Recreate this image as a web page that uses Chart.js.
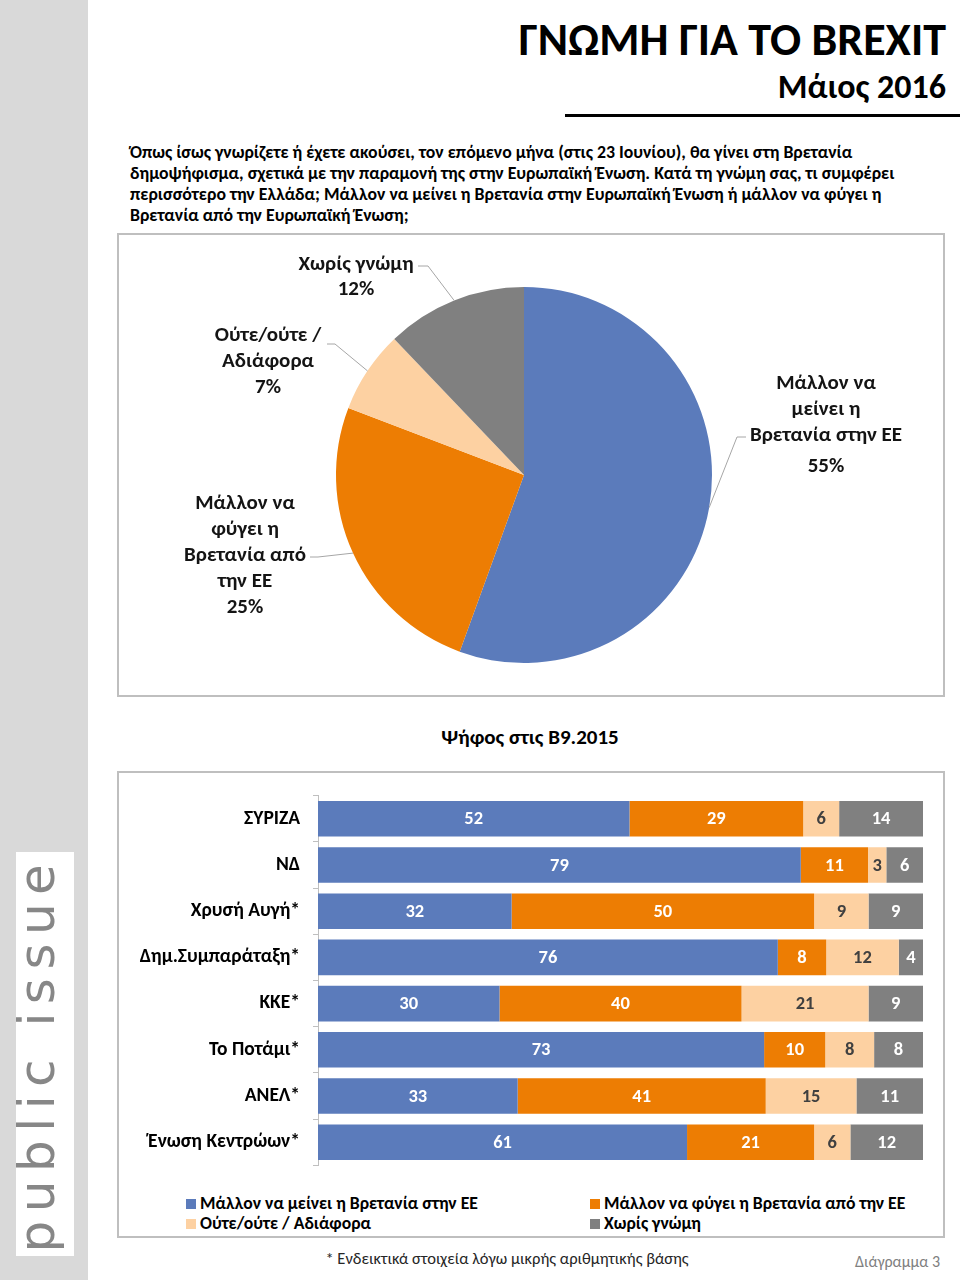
<!DOCTYPE html>
<html>
<head>
<meta charset="utf-8">
<script src="https://cdn.jsdelivr.net/npm/chart.js@4.4.0/dist/chart.umd.min.js"></script>
<style>
  body { margin: 0; width: 960px; height: 1280px; position: relative; overflow: hidden; background: #fff;
         font-family: Carlito, "Roboto Condensed", sans-serif; color: #000; }
  .abs { position: absolute; }
  #side { left: 0; top: 0; width: 88px; height: 1280px; background: #d9d9d9; }
  #logo { left: 16px; top: 852px; width: 58px; height: 404px; background: #fff; overflow: hidden; }
  #logo span { position: absolute; left: 50%; top: 50%; white-space: nowrap; color: #878787;
               font-family: "DejaVu Sans", sans-serif; font-size: 50px; line-height: 58px;
               letter-spacing: 8.5px; transform: translate(-52%, -50%) rotate(-90deg); }
  #title { right: 14px; top: 14px; font-size: 46px; font-weight: bold; white-space: nowrap; line-height: 50px; }
  #date { right: 14px; top: 68px; font-size: 34px; font-weight: bold; white-space: nowrap; line-height: 38px; }
  #rule { left: 565px; top: 114px; width: 395px; height: 3px; background: #000; }
  #question { left: 130px; top: 142px; width: 820px; font-size: 17.8px; font-weight: bold; line-height: 21px; white-space: nowrap; }
  .box { border: 2px solid #bfbfbf; box-sizing: border-box; }
  #pieBox { left: 117px; top: 233px; width: 828px; height: 464px; }
  #pieWrap { left: 117px; top: 233px; width: 828px; height: 464px; }
  #barTitle { left: 330px; width: 400px; top: 724px; text-align: center; font-size: 21px; font-weight: bold; line-height: 26px; }
  #barBox { left: 117px; top: 771px; width: 828px; height: 467px; }
  #barWrap { left: 117px; top: 771px; width: 828px; height: 419px; }
  .leg { font-size: 17.7px; font-weight: bold; white-space: nowrap; line-height: 20px; }
  .leg i { display: inline-block; width: 10px; height: 10px; margin-right: 4px; vertical-align: 0px; }
  #note { left: 200px; width: 614px; top: 1248px; text-align: center; font-size: 16.5px; color: #262626; line-height: 20px; }
  #fig { right: 20px; top: 1252px; font-size: 16px; color: #808080; line-height: 20px; }
</style>
</head>
<body>
<div id="side" class="abs"></div>
<div id="logo" class="abs"><span>public issue</span></div>
<div id="title" class="abs">ΓΝΩΜΗ ΓΙΑ ΤΟ BREXIT</div>
<div id="date" class="abs">Μάιος 2016</div>
<div id="rule" class="abs"></div>
<div id="question" class="abs">Όπως ίσως γνωρίζετε ή έχετε ακούσει, τον επόμενο μήνα (στις 23 Ιουνίου), θα γίνει στη Βρετανία<br>δημοψήφισμα, σχετικά με την παραμονή της στην Ευρωπαϊκή Ένωση. Κατά τη γνώμη σας, τι συμφέρει<br>περισσότερο την Ελλάδα; Μάλλον να μείνει η Βρετανία στην Ευρωπαϊκή Ένωση ή μάλλον να φύγει η<br>Βρετανία από την Ευρωπαϊκή Ένωση;</div>
<div id="pieBox" class="abs box"></div>
<div id="pieWrap" class="abs"><canvas id="pie"></canvas></div>
<div id="barTitle" class="abs">Ψήφος στις Β9.2015</div>
<div id="barBox" class="abs box"></div>
<div id="barWrap" class="abs"><canvas id="bars"></canvas></div>
<div id="legend"></div>
<div id="note" class="abs">* Ενδεικτικά στοιχεία λόγω μικρής αριθμητικής βάσης</div>
<div id="fig" class="abs">Διάγραμμα 3</div>

<script>
// pie: whole sample
const pieCategories = ['Μάλλον να μείνει η Βρετανία στην ΕΕ', 'Μάλλον να φύγει η Βρετανία από την ΕΕ', 'Ούτε/ούτε / Αδιάφορα', 'Χωρίς γνώμη'];
const pieValues = [55, 25, 7, 12];
const pieLabelLines = [
  ['Μάλλον να', 'μείνει η', 'Βρετανία στην ΕΕ'],
  ['Μάλλον να', 'φύγει η', 'Βρετανία από', 'την ΕΕ'],
  ['Ούτε/ούτε /', 'Αδιάφορα'],
  ['Χωρίς γνώμη'],
];

// bars: by vote in Sep 2015
const parties = ['ΣΥΡΙΖΑ', 'ΝΔ', 'Χρυσή Αυγή*', 'Δημ.Συμπαράταξη*', 'ΚΚΕ*', 'Το Ποτάμι*', 'ΑΝΕΛ*', 'Ένωση Κεντρώων*'];
const stayValues = [52, 79, 32, 76, 30, 73, 33, 61];
const leaveValues = [29, 11, 50, 8, 40, 10, 41, 21];
const neitherValues = [6, 3, 9, 12, 21, 8, 15, 6];
const noOpinionValues = [14, 6, 9, 4, 9, 8, 11, 12];

const seriesColors = ['#5b7bbb', '#ed7d03', '#fdd1a2', '#808080'];
const FONT = 'Carlito, "Roboto Condensed", sans-serif';

// label placement around the pie, offsets from pie centre
const pieLabelPlace = [
  { dx: 302, dy: -91, pctGap: 31, lead: [[222, -38], [213, -38]] },
  { dx: -279, dy: 29, pctGap: 26, lead: [[-214, 82], [-206, 82]] },
  { dx: -256, dy: -139, pctGap: 26, lead: [[-197, -131], [-189, -131]] },
  { dx: -168, dy: -210, pctGap: 25, lead: [[-106, -209], [-96, -209]] },
];

const pieLabels = {
  id: 'pieLabels',
  afterDatasetsDraw(chart) {
    const { ctx } = chart;
    const arcs = chart.getDatasetMeta(0).data;
    ctx.save();
    arcs.forEach((arc, i) => {
      const p = pieLabelPlace[i];
      const cx = arc.x;
      const cy = arc.y;
      const mid = (arc.startAngle + arc.endAngle) / 2;
      // leader line
      ctx.strokeStyle = '#a6a6a6';
      ctx.lineWidth = 1;
      ctx.beginPath();
      ctx.moveTo(cx + p.lead[0][0], cy + p.lead[0][1]);
      ctx.lineTo(cx + p.lead[1][0], cy + p.lead[1][1]);
      ctx.lineTo(cx + Math.cos(mid) * arc.outerRadius, cy + Math.sin(mid) * arc.outerRadius);
      ctx.stroke();
      // text
      ctx.fillStyle = '#141414';
      ctx.font = 'bold 21px ' + FONT;
      ctx.textAlign = 'center';
      ctx.textBaseline = 'middle';
      let y = cy + p.dy;
      pieLabelLines[i].forEach((line, k) => {
        if (k > 0) y += 26;
        ctx.fillText(line, cx + p.dx, y);
      });
      y += p.pctGap;
      ctx.fillText(pieValues[i] + '%', cx + p.dx, y);
    });
    ctx.restore();
  },
};

new Chart(document.getElementById('pie'), {
  type: 'pie',
  data: {
    labels: pieCategories,
    datasets: [{ data: pieValues, backgroundColor: seriesColors, borderWidth: 0 }],
  },
  options: {
    responsive: true,
    maintainAspectRatio: false,
    animation: false,
    layout: { padding: { top: 54, bottom: 34, left: 219, right: 233 } },
    plugins: { legend: { display: false }, tooltip: { enabled: false } },
  },
  plugins: [pieLabels],
});

// 100% stacked: each row is scaled to its own total
const barSeries = [stayValues, leaveValues, neitherValues, noOpinionValues];
const rowTotals = parties.map((_, r) => barSeries.reduce((s, arr) => s + arr[r], 0));

const barLabels = {
  id: 'barLabels',
  afterDatasetsDraw(chart) {
    const { ctx } = chart;
    ctx.save();
    ctx.font = 'bold 18.5px ' + FONT;
    ctx.textAlign = 'center';
    ctx.textBaseline = 'middle';
    chart.data.datasets.forEach((ds, d) => {
      ctx.fillStyle = d === 2 ? '#404040' : '#ffffff';
      chart.getDatasetMeta(d).data.forEach((bar, r) => {
        ctx.fillText(String(barSeries[d][r]), (bar.x + bar.base) / 2, bar.y + 1);
      });
    });
    ctx.restore();
  },
};

new Chart(document.getElementById('bars'), {
  type: 'bar',
  data: {
    labels: parties,
    datasets: pieCategories.map((name, d) => ({
      label: name,
      data: barSeries[d].map((v, r) => (v / rowTotals[r]) * 100),
      backgroundColor: seriesColors[d],
      borderWidth: 0,
      barPercentage: 0.77,
      categoryPercentage: 1,
    })),
  },
  options: {
    indexAxis: 'y',
    responsive: true,
    maintainAspectRatio: false,
    animation: false,
    layout: { padding: { top: 19, bottom: 3, right: 22, left: 0 } },
    scales: {
      x: { stacked: true, min: 0, max: 100, display: false },
      y: {
        stacked: true,
        afterFit: (scale) => { scale.width = 201; },
        border: { display: true, color: '#bfbfbf', width: 1 },
        grid: { drawOnChartArea: false, drawTicks: true, tickLength: 5, color: '#bfbfbf' },
        ticks: { color: '#000', padding: 13, font: { family: FONT, size: 19.5, weight: 'bold' } },
      },
    },
    plugins: { legend: { display: false }, tooltip: { enabled: false } },
  },
  plugins: [barLabels],
});

// legend laid out like the original two-column block
const legendSpots = [[186, 1193], [590, 1193], [186, 1213], [590, 1213]];
const legendEl = document.getElementById('legend');
pieCategories.forEach((name, i) => {
  const el = document.createElement('div');
  el.className = 'abs leg';
  el.style.left = legendSpots[i][0] + 'px';
  el.style.top = legendSpots[i][1] + 'px';
  el.innerHTML = '<i style="background:' + seriesColors[i] + '"></i>' + name;
  legendEl.appendChild(el);
});
</script>
</body>
</html>
